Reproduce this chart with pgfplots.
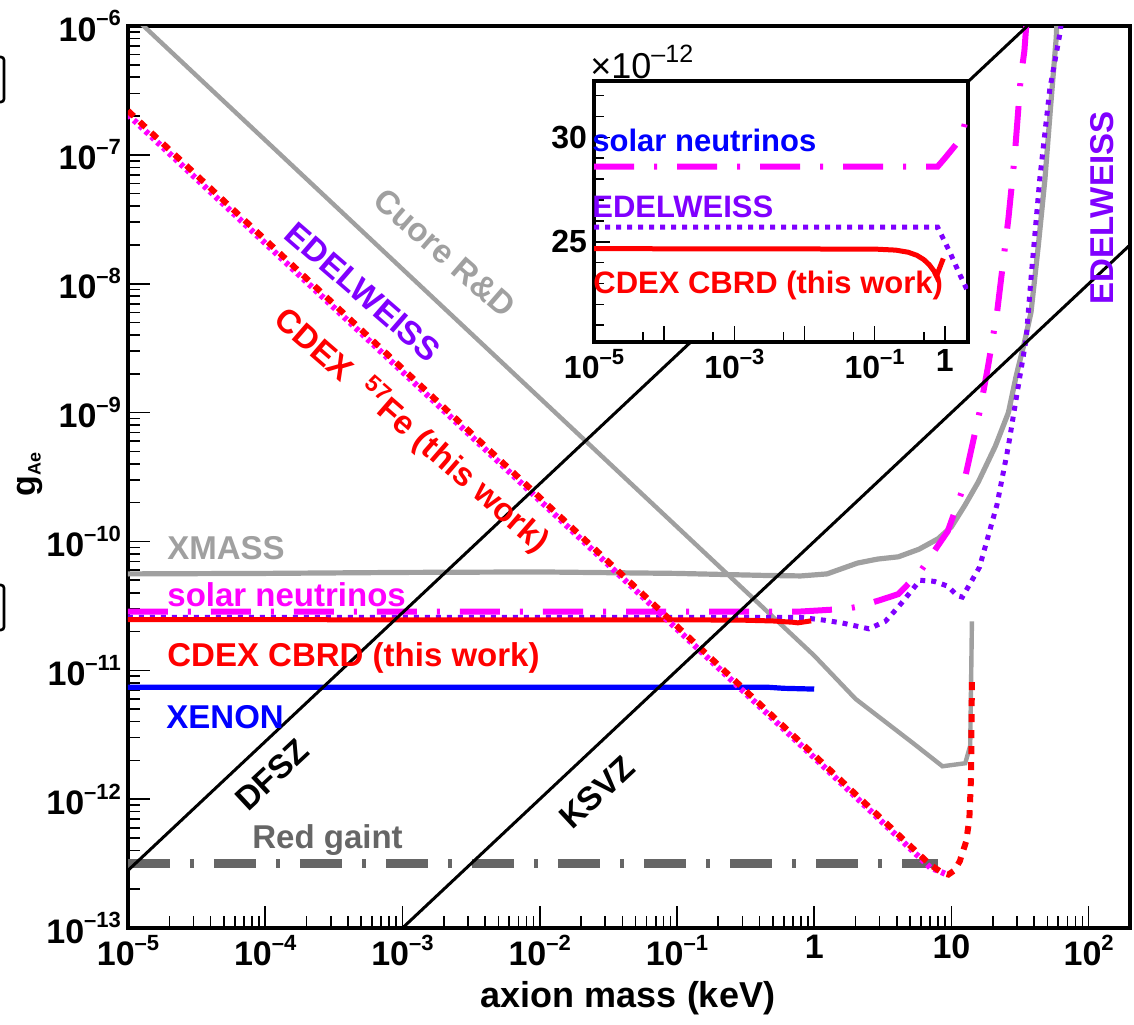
\documentclass[border=0pt]{standalone}
\usepackage{pgfplots}
\pgfplotsset{compat=1.18}
\usepackage{fontspec}
\setmainfont{Liberation Sans}
\definecolor{lgray}{HTML}{A0A0A0}
\definecolor{dgray}{HTML}{666666}
\definecolor{edel}{HTML}{8000FF}
\definecolor{mag}{HTML}{FF00FF}
\newcommand{\tp}[1]{10\raisebox{0.45em}{\fontsize{11}{11}\selectfont #1}}
\newcommand{\lab}{\fontsize{16.5}{16.5}\selectfont\bfseries}
\newcommand{\ilab}{\fontsize{15.5}{15.5}\selectfont\bfseries}
\begin{document}
\begin{tikzpicture}
\begin{axis}[
  at={(64pt,48pt)}, anchor=south west,
  width=501pt, height=451pt, scale only axis,
  xmode=log, ymode=log,
  xmin=1e-5, xmax=200, ymin=1e-13, ymax=1e-6,
  axis line style={line width=1.6pt},
  xtick pos=left, ytick pos=left,
  tick align=inside,
  major tick length=11pt, minor tick length=6pt,
  every tick/.style={black, line width=0.8pt},
  xtick={1e-5,1e-4,1e-3,1e-2,1e-1,1,10,100},
  xticklabels={\tp{–5},\tp{–4},\tp{–3},\tp{–2},\tp{–1},1,10,\tp{2}},
  ytick={1e-13,1e-12,1e-11,1e-10,1e-9,1e-8,1e-7,1e-6},
  yticklabels={\tp{–13},\tp{–12},\tp{–11},\tp{–10},\tp{–9},\tp{–8},\tp{–7},\tp{–6}},
  minor xtick={2e-5,3e-5,4e-5,5e-5,6e-5,7e-5,8e-5,9e-5,
    2e-4,3e-4,4e-4,5e-4,6e-4,7e-4,8e-4,9e-4,
    2e-3,3e-3,4e-3,5e-3,6e-3,7e-3,8e-3,9e-3,
    2e-2,3e-2,4e-2,5e-2,6e-2,7e-2,8e-2,9e-2,
    2e-1,3e-1,4e-1,5e-1,6e-1,7e-1,8e-1,9e-1,
    2,3,4,5,6,7,8,9,20,30,40,50,60,70,80,90},
  minor ytick={2e-13,3e-13,4e-13,5e-13,6e-13,7e-13,8e-13,9e-13,
    2e-12,3e-12,4e-12,5e-12,6e-12,7e-12,8e-12,9e-12,
    2e-11,3e-11,4e-11,5e-11,6e-11,7e-11,8e-11,9e-11,
    2e-10,3e-10,4e-10,5e-10,6e-10,7e-10,8e-10,9e-10,
    2e-9,3e-9,4e-9,5e-9,6e-9,7e-9,8e-9,9e-9,
    2e-8,3e-8,4e-8,5e-8,6e-8,7e-8,8e-8,9e-8,
    2e-7,3e-7,4e-7,5e-7,6e-7,7e-7,8e-7,9e-7},
  tick label style={font=\fontsize{17}{17}\selectfont\bfseries},
]
% Red giant
\addplot[dgray, line width=4.5pt, dash pattern=on 21pt off 10pt on 2pt off 10pt]
  coordinates {(1e-5,3.15e-13) (8,3.15e-13)};
% XMASS
\addplot[lgray, line width=2.6pt] coordinates {
 (1e-5,5.6e-11) (1e-4,5.65e-11) (1e-3,5.75e-11) (1e-2,5.8e-11) (0.1,5.65e-11)
 (0.43,5.45e-11) (0.8,5.4e-11) (1.24,5.6e-11) (2.07,6.8e-11) (2.9,7.3e-11)
 (4.1,7.6e-11) (5.8,8.7e-11) (8,1.05e-10) (10,1.3e-10) (12.5,1.9e-10)
 (15.7,2.9e-10) (20.9,5.5e-10) (26,1.0e-9) (29.7,1.95e-9) (34,3.5e-9)
 (38,6e-9) (43,2e-8) (48,6.5e-8) (53,2.5e-7) (58,8.1e-7) (59,1.2e-6)};
% Cuore R&D
\addplot[lgray, line width=2.2pt] coordinates {
 (1e-5,1.3e-6) (1,1.3e-11) (2.0,6.0e-12) (5.3,2.7e-12) (8.6,1.8e-12)
 (12.6,1.9e-12) (13.7,2.6e-12) (14.1,2.4e-11)};
% solar neutrinos
\addplot[mag, line width=3pt, dash pattern=on 20pt off 10pt on 1.5pt off 10pt] coordinates {
 (1e-5,2.86e-11) (0.8,2.86e-11) (1.0,2.9e-11) (1.7,3.0e-11) (2.1,3.12e-11)
 (3,3.5e-11) (4.1,3.9e-11) (5.9,5.8e-11) (9.4,1.2e-10) (12,2.5e-10)
 (16,1.0e-9) (18.5,2.3e-9) (21.5,6e-9) (26,3.2e-8) (28.9,9.8e-8)
 (32,4e-7) (34,6.4e-7) (35.5,1.2e-6)};
% EDELWEISS
\addplot[edel, line width=2.5pt, dash pattern=on 2.5pt off 3pt] coordinates {
 (1e-5,2.58e-11) (0.78,2.58e-11) (1.18,2.45e-11) (1.6,2.33e-11) (2.5,2.1e-11)
 (3.3,2.4e-11) (4.1,3.1e-11) (5.9,5.0e-11) (7.5,4.9e-11) (9.4,4.5e-11)
 (11,3.8e-11) (12,3.7e-11) (16,6.3e-11) (21.5,1.94e-10) (26,5.5e-10)
 (30.5,1.55e-9) (35,3.7e-9) (38,1.1e-8) (44,6.5e-8) (52,3.2e-7) (62,9e-7) (64,1.2e-6)};
% CDEX CBRD
\addplot[red, line width=2.5pt] coordinates {
 (1e-5,2.47e-11) (0.1,2.465e-11) (0.3,2.45e-11) (0.5,2.415e-11) (0.7,2.36e-11)
 (0.76,2.335e-11) (0.95,2.42e-11)};
% XENON
\addplot[blue, line width=2.6pt] coordinates {
 (1e-5,7.4e-12) (0.45,7.4e-12) (0.6,7.25e-12) (1.0,7.15e-12)};
% EDELWEISS 57Fe (magenta dotted)
\addplot[mag, line width=3pt, dash pattern=on 2pt off 2pt] coordinates {
 (1e-5,2.05e-7) (1,2.1e-12) (7,2.95e-13) (9.3,2.6e-13)};
% CDEX 57Fe
\addplot[red, line width=3pt, dash pattern=on 4pt off 4pt] coordinates {
 (1e-5,2.2e-7) (1,2.2e-12) (7,3.1e-13) (8.5,2.7e-13) (9.5,2.6e-13)
 (10.5,2.8e-13) (11.5,3.3e-13) (12.8,4.7e-13) (13.5,7e-13) (13.9,1.5e-12) (14.1,8.5e-12)};
% DFSZ and KSVZ
\addplot[black, line width=1.5pt] coordinates {(1e-5,2.8e-13) (200,5.6e-6)};
\addplot[black, line width=1.5pt] coordinates {(1e-4,1e-14) (200,2e-8)};
\end{axis}
% inset
\begin{axis}[
  at={(297pt,341pt)}, anchor=south west,
  width=187pt, height=130.5pt, scale only axis,
  xmode=log, xmin=1e-5, xmax=2.14, ymin=20.2, ymax=32.7,
  axis background/.style={fill=white},
  axis line style={line width=1.6pt},
  xtick pos=left, ytick pos=left,
  tick align=inside,
  major tick length=8pt, minor tick length=5pt,
  every tick/.style={black, line width=0.8pt},
  xtick={1e-5,1e-4,1e-3,1e-2,1e-1,1},
  xticklabels={\tp{–5},,\tp{–3},,\tp{–1},1},
  minor xtick={5e-5,5e-4,5e-3,5e-2,5e-1},
  ytick={25,30}, yticklabels={25,30},
  minor ytick={21,22,23,24,26,27,28,29,31,32},
  tick label style={font=\fontsize{16}{16}\selectfont\bfseries},
]
\addplot[mag, line width=3pt, dash pattern=on 20pt off 10pt on 1.5pt off 10pt] coordinates {
 (1e-5,28.6) (0.79,28.6) (1.0,29.0) (1.4,29.6) (1.73,30.0) (2.14,31.3)};
\addplot[edel, line width=2.5pt, dash pattern=on 2.5pt off 3pt] coordinates {
 (1e-5,25.7) (0.79,25.7) (1.18,24.5) (1.6,23.5) (2.14,22.6)};
\addplot[red, line width=2.5pt] coordinates {
 (1e-5,24.67) (0.1,24.65) (0.2,24.6) (0.3,24.5) (0.4,24.35) (0.5,24.15)
 (0.6,23.9) (0.7,23.6) (0.76,23.35) (0.95,24.2)};
\end{axis}
% inset labels
\node[anchor=west, inner sep=0, font=\fontsize{18}{18}\selectfont] at (295pt,481pt) {×10\raisebox{0.45em}{\fontsize{12.5}{12.5}\selectfont –12}};
\node[anchor=west, inner sep=0, blue, font=\ilab] at (296pt,442pt) {solar neutrinos};
\node[anchor=west, inner sep=0, edel, font=\ilab] at (296pt,408.5pt) {EDELWEISS};
\node[anchor=west, inner sep=0, red, font=\ilab] at (296.5pt,369.5pt) {CDEX CBRD (this work)};
% main labels
\node[lgray, rotate=-41, font=\lab] at (222.5pt,385.5pt) {Cuore R\&D};
\node[edel, rotate=-41, font=\lab] at (181.5pt,366pt) {EDELWEISS};
\node[red, rotate=-41, font=\lab] at (206pt,297pt) {CDEX\ \ \textsuperscript{57}Fe (this work)};
\node[anchor=west, inner sep=0, lgray, font=\lab] at (83.5pt,238pt) {XMASS};
\node[anchor=west, inner sep=0, mag, font=\lab] at (83.5pt,214.5pt) {solar neutrinos};
\node[anchor=west, inner sep=0, red, font=\lab] at (83.5pt,183pt) {CDEX CBRD (this work)};
\node[anchor=west, inner sep=0, blue, font=\lab] at (83pt,153.5pt) {XENON};
\node[rotate=43, font=\lab] at (136pt,124.5pt) {DFSZ};
\node[rotate=43, font=\lab] at (298.5pt,116pt) {KSVZ};
\node[anchor=west, inner sep=0, dgray, font=\lab] at (126pt,92pt) {Red gaint};
\node[rotate=90, edel, font=\lab] at (551pt,408pt) {EDELWEISS};
% axis titles
\node[rotate=90, font=\fontsize{17}{17}\selectfont\bfseries] at (15pt,275pt) {g\textsubscript{\fontsize{9}{9}\selectfont Ae}};
\node[font=\fontsize{18}{18}\selectfont\bfseries] at (314pt,13pt) {axion mass (keV)};
% edge marks
\draw[line width=1.3pt, rounded corners=1.5pt] (-2pt,483.5pt) -- (2pt,483.5pt) -- (2pt,461pt) -- (-2pt,461pt);
\draw[line width=1.3pt, rounded corners=1.5pt] (-2pt,219.5pt) -- (2pt,219.5pt) -- (2pt,197pt) -- (-2pt,197pt);
\pgfresetboundingbox
\path[use as bounding box] (0pt,0pt) rectangle (567pt,512pt);
\end{tikzpicture}
\end{document}
